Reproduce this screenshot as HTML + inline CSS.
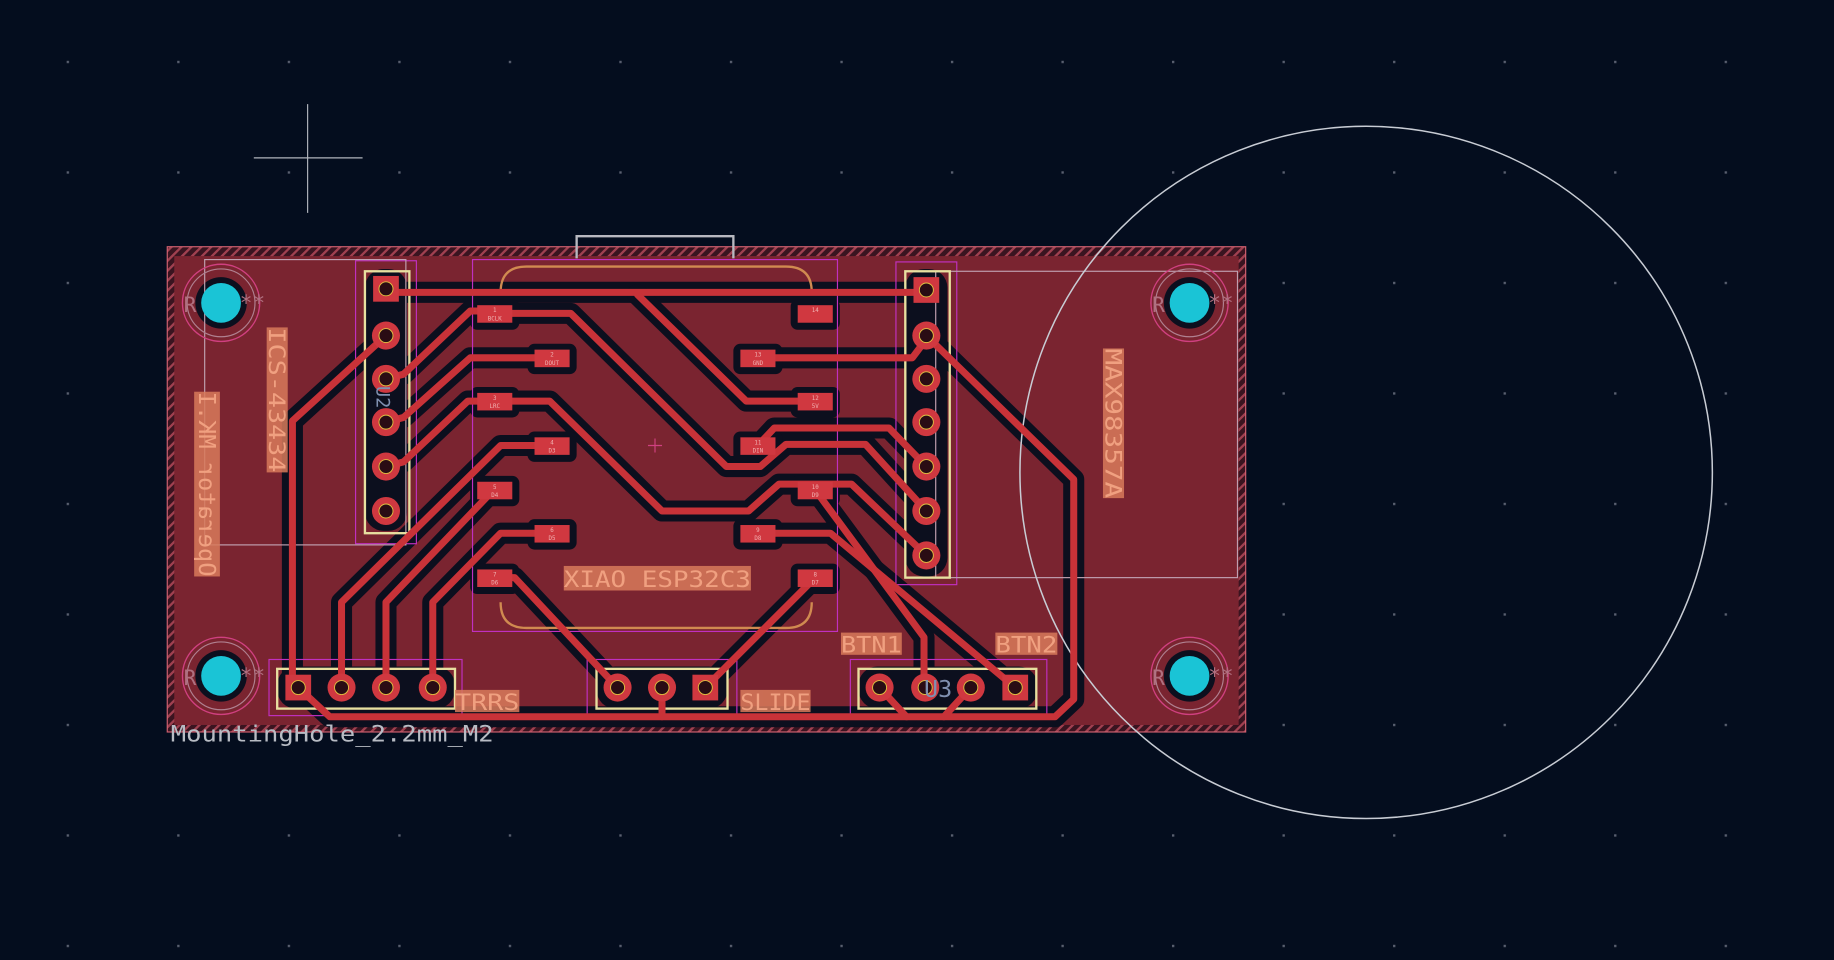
<!DOCTYPE html>
<html><head><meta charset="utf-8"><style>
html,body{margin:0;padding:0;background:#040d1e;}
svg{display:block}
text{font-family:"DejaVu Sans Mono","Liberation Mono",monospace;}
</style></head><body>
<svg width="1834" height="960" viewBox="0 0 1568 821" preserveAspectRatio="none" xmlns="http://www.w3.org/2000/svg">
<defs>
<pattern id="grid" x="57" y="52" width="94.5" height="94.5" patternUnits="userSpaceOnUse">
<rect x="0" y="0" width="2" height="2" fill="#5a6070"/>
</pattern>
<pattern id="hatch" width="6" height="6" patternUnits="userSpaceOnUse" patternTransform="rotate(45)">
<rect width="6" height="6" fill="#3a1420"/>
<rect width="2" height="6" fill="#a04050"/>
</pattern>
</defs>
<rect width="1568" height="821" fill="#040d1e"/>
<rect width="1568" height="821" fill="url(#grid)"/>

<!-- board -->
<rect x="143" y="211" width="922" height="415" fill="url(#hatch)"/>
<rect x="149" y="219" width="910" height="401" fill="#7a2430"/>
<rect x="143" y="211" width="922" height="415" fill="none" stroke="#d06070" stroke-width="1"/>

<!-- usb outline -->
<path d="M493 221 V202 H627 V221" fill="none" stroke="#b8b8c0" stroke-width="2"/>

<!-- clearance -->
<g stroke="#0c0f1e" stroke-width="18" fill="none" stroke-linejoin="round" stroke-linecap="round">
<path d="M330 250 H792"/>
<path d="M648 306 H780 L792 290"/>
<path d="M545 252 L638 343 H697"/>
<path d="M648 381 L662 366 H760 L792 399"/>
<path d="M422 268 H488 L621 399 H650 L672 380 H740 L792 437"/>
<path d="M422 343 H470 L566 437 H640 L666 414 H728 L792 475"/>
<path d="M697 419 L790 545 V588"/>
<path d="M648 456 H710 L868 588"/>
<path d="M792 287 L918 410 V598 L902 613 H282 L255 588"/>
<path d="M752 588 L775 613 M830 588 L807 613 M566 588 V613"/>
<path d="M697 494 L603 588"/>
<path d="M422 494 H440 L528 588"/>
<path d="M330 287 L250 360 V588"/>
<path d="M330 324 L345 320 L402 266 H422"/>
<path d="M330 361 L345 357 L402 306 H471"/>
<path d="M330 399 L345 395 L400 343 H422"/>
<path d="M471 381 H428 L292 515 V588"/>
<path d="M422 419 L330 515 V588"/>
<path d="M471 456 H428 L370 515 V588"/>
</g>
<g fill="#0c0f1e">
<rect x="402" y="256" width="42" height="26" rx="6"/><rect x="451" y="294" width="42" height="26" rx="6"/>
<rect x="402" y="331" width="42" height="26" rx="6"/><rect x="451" y="369" width="42" height="26" rx="6"/>
<rect x="402" y="407" width="42" height="26" rx="6"/><rect x="451" y="444" width="42" height="26" rx="6"/>
<rect x="402" y="482" width="42" height="26" rx="6"/>
<rect x="676" y="256" width="42" height="26" rx="6"/><rect x="627" y="294" width="42" height="26" rx="6"/>
<rect x="676" y="331" width="42" height="26" rx="6"/><rect x="627" y="369" width="42" height="26" rx="6"/>
<rect x="676" y="407" width="42" height="26" rx="6"/><rect x="627" y="444" width="42" height="26" rx="6"/>
<rect x="676" y="482" width="42" height="26" rx="6"/>
<rect x="312" y="230" width="36" height="224" rx="16"/>
<rect x="774" y="230" width="36" height="263" rx="16"/>
<rect x="237" y="570" width="152" height="36" rx="16"/>
<rect x="510" y="570" width="112" height="36" rx="16"/>
<rect x="734" y="570" width="153" height="36" rx="16"/>
<circle cx="189" cy="259" r="22"/><circle cx="1017" cy="259" r="22"/>
<circle cx="189" cy="578" r="22"/><circle cx="1017" cy="578" r="22"/>
</g>

<!-- silkscreen / fab outlines -->
<g fill="none">
<rect x="404" y="222" width="312" height="318" stroke="#c030c0" stroke-width="1"/>
<path d="M428 250 Q428 228 450 228 H672 Q694 228 694 250" stroke="#d08a50" stroke-width="2"/>
<path d="M428 515 Q428 537 450 537 H672 Q694 537 694 515" stroke="#d08a50" stroke-width="2"/>
<rect x="304" y="223" width="52" height="242" stroke="#c030c0" stroke-width="1"/>
<rect x="766" y="224" width="52" height="276" stroke="#c030c0" stroke-width="1"/>
<rect x="230" y="564" width="165" height="48" stroke="#c030c0" stroke-width="1"/>
<rect x="502" y="564" width="128" height="48" stroke="#c030c0" stroke-width="1"/>
<rect x="727" y="564" width="168" height="48" stroke="#c030c0" stroke-width="1"/>
<rect x="175" y="222" width="172" height="244" stroke="#c0a0b0" stroke-width="1"/>
<rect x="800" y="232" width="258" height="262" stroke="#c0a0b0" stroke-width="1"/>
<rect x="312" y="232" width="38" height="224" stroke="#e8e0a0" stroke-width="2"/>
<rect x="774" y="232" width="38" height="262" stroke="#e8e0a0" stroke-width="2"/>
<rect x="237" y="572" width="152" height="34" stroke="#e8e0a0" stroke-width="2"/>
<rect x="510" y="572" width="112" height="34" stroke="#e8e0a0" stroke-width="2"/>
<rect x="734" y="572" width="152" height="34" stroke="#e8e0a0" stroke-width="2"/>
<circle cx="1168" cy="404" r="296" stroke="#c8ccd4" stroke-width="1.3"/>
<path d="M263 89 V182 M217 135 H310" stroke="#b0b4bc" stroke-width="1"/>
<path d="M554 381 H566 M560 375 V387" stroke="#d04080" stroke-width="1"/>
</g>

<!-- tracks -->
<g stroke="#c83238" stroke-width="6" fill="none" stroke-linejoin="round" stroke-linecap="round">
<path d="M330 250 H792"/>
<path d="M648 306 H780 L792 290"/>
<path d="M545 252 L638 343 H697"/>
<path d="M648 381 L662 366 H760 L792 399"/>
<path d="M422 268 H488 L621 399 H650 L672 380 H740 L792 437"/>
<path d="M422 343 H470 L566 437 H640 L666 414 H728 L792 475"/>
<path d="M697 419 L790 545 V588"/>
<path d="M648 456 H710 L868 588"/>
<path d="M792 287 L918 410 V598 L902 613 H282 L255 588"/>
<path d="M752 588 L775 613 M830 588 L807 613 M566 588 V613"/>
<path d="M697 494 L603 588"/>
<path d="M422 494 H440 L528 588"/>
<path d="M330 287 L250 360 V588"/>
<path d="M330 324 L345 320 L402 266 H422"/>
<path d="M330 361 L345 357 L402 306 H471"/>
<path d="M330 399 L345 395 L400 343 H422"/>
<path d="M471 381 H428 L292 515 V588"/>
<path d="M422 419 L330 515 V588"/>
<path d="M471 456 H428 L370 515 V588"/>
</g>

<!-- SMD pads -->
<g fill="#d03840">
<rect x="408" y="261" width="30" height="15"/><rect x="457" y="299" width="30" height="15"/>
<rect x="408" y="336" width="30" height="15"/><rect x="457" y="374" width="30" height="15"/>
<rect x="408" y="412" width="30" height="15"/><rect x="457" y="449" width="30" height="15"/>
<rect x="408" y="487" width="30" height="15"/>
<rect x="682" y="261" width="30" height="15"/><rect x="633" y="299" width="30" height="15"/>
<rect x="682" y="336" width="30" height="15"/><rect x="633" y="374" width="30" height="15"/>
<rect x="682" y="412" width="30" height="15"/><rect x="633" y="449" width="30" height="15"/>
<rect x="682" y="487" width="30" height="15"/>
</g>
<g fill="#f0b0b0" font-size="5" text-anchor="middle">
<text x="423" y="267">1</text><text x="423" y="274">BCLK</text>
<text x="472" y="305">2</text><text x="472" y="312">DOUT</text>
<text x="423" y="342">3</text><text x="423" y="349">LRC</text>
<text x="472" y="380">4</text><text x="472" y="387">D3</text>
<text x="423" y="418">5</text><text x="423" y="425">D4</text>
<text x="472" y="455">6</text><text x="472" y="462">D5</text>
<text x="423" y="493">7</text><text x="423" y="500">D6</text>
<text x="697" y="267">14</text>
<text x="648" y="305">13</text><text x="648" y="312">GND</text>
<text x="697" y="342">12</text><text x="697" y="349">5V</text>
<text x="648" y="380">11</text><text x="648" y="387">DIN</text>
<text x="697" y="418">10</text><text x="697" y="425">D9</text>
<text x="648" y="455">9</text><text x="648" y="462">D8</text>
<text x="697" y="493">8</text><text x="697" y="500">D7</text>
</g>

<!-- THT pads -->
<g fill="#d03840">
<rect x="319" y="236" width="22" height="22"/>
<circle cx="330" cy="287" r="12"/><circle cx="330" cy="324" r="12"/><circle cx="330" cy="361" r="12"/><circle cx="330" cy="399" r="12"/><circle cx="330" cy="437" r="12"/>
<rect x="781" y="237" width="22" height="22"/>
<circle cx="792" cy="287" r="12"/><circle cx="792" cy="324" r="12"/><circle cx="792" cy="361" r="12"/><circle cx="792" cy="399" r="12"/><circle cx="792" cy="437" r="12"/><circle cx="792" cy="475" r="12"/>
<rect x="244" y="577" width="22" height="22"/>
<circle cx="292" cy="588" r="12"/><circle cx="330" cy="588" r="12"/><circle cx="370" cy="588" r="12"/>
<circle cx="528" cy="588" r="12"/><circle cx="566" cy="588" r="12"/><rect x="592" y="577" width="22" height="22"/>
<circle cx="752" cy="588" r="12"/><circle cx="791" cy="588" r="12"/><circle cx="830" cy="588" r="12"/><rect x="857" y="577" width="22" height="22"/>
</g>
<g fill="#2a0c14" stroke="#e0c040" stroke-width="0.8">
<circle cx="330" cy="247" r="6"/><circle cx="330" cy="287" r="6"/><circle cx="330" cy="324" r="6"/><circle cx="330" cy="361" r="6"/><circle cx="330" cy="399" r="6"/><circle cx="330" cy="437" r="6"/>
<circle cx="792" cy="248" r="6"/><circle cx="792" cy="287" r="6"/><circle cx="792" cy="324" r="6"/><circle cx="792" cy="361" r="6"/><circle cx="792" cy="399" r="6"/><circle cx="792" cy="437" r="6"/><circle cx="792" cy="475" r="6"/>
<circle cx="255" cy="588" r="6"/><circle cx="292" cy="588" r="6"/><circle cx="330" cy="588" r="6"/><circle cx="370" cy="588" r="6"/>
<circle cx="528" cy="588" r="6"/><circle cx="566" cy="588" r="6"/><circle cx="603" cy="588" r="6"/>
<circle cx="752" cy="588" r="6"/><circle cx="791" cy="588" r="6"/><circle cx="830" cy="588" r="6"/><circle cx="868" cy="588" r="6"/>
</g>

<!-- mounting holes -->
<g>
<g fill="none" stroke="#d04080" stroke-width="1.2">
<circle cx="189" cy="259" r="33"/><circle cx="1017" cy="259" r="33"/><circle cx="189" cy="578" r="33"/><circle cx="1017" cy="578" r="33"/>
</g>
<g fill="none" stroke="#b08090" stroke-width="1">
<circle cx="189" cy="259" r="29"/><circle cx="1017" cy="259" r="29"/><circle cx="189" cy="578" r="29"/><circle cx="1017" cy="578" r="29"/>
</g>
<g fill="#1ac4d6">
<circle cx="189" cy="259" r="17"/><circle cx="1017" cy="259" r="17"/><circle cx="189" cy="578" r="17"/><circle cx="1017" cy="578" r="17"/>
</g>
<g fill="#b07080" font-size="18">
<text x="157" y="267">R</text><text x="205" y="265">**</text>
<text x="985" y="267">R</text><text x="1033" y="265">**</text>
<text x="157" y="586">R</text><text x="205" y="584">**</text>
<text x="985" y="586">R</text><text x="1033" y="584">**</text>
</g>
</g>

<!-- labels -->
<g fill="#d87a5a" opacity="0.85">
<rect x="482" y="484" width="160" height="21"/>
<rect x="228" y="280" width="18" height="124"/>
<rect x="166" y="335" width="22" height="158"/>
<rect x="943" y="298" width="18" height="128"/>
<rect x="719" y="541" width="52" height="19"/>
<rect x="851" y="541" width="53" height="19"/>
<rect x="389" y="590" width="55" height="19"/>
<rect x="633" y="590" width="60" height="19"/>
</g>
<g fill="#f0a080" font-size="19">
<text x="482" y="502" textLength="160" lengthAdjust="spacingAndGlyphs">XIAO ESP32C3</text>
<text x="719" y="558" textLength="52" lengthAdjust="spacingAndGlyphs">BTN1</text>
<text x="851" y="558" textLength="53" lengthAdjust="spacingAndGlyphs">BTN2</text>
<text x="389" y="607" textLength="55" lengthAdjust="spacingAndGlyphs">TRRS</text>
<text x="633" y="607" textLength="60" lengthAdjust="spacingAndGlyphs">SLIDE</text>
<text transform="translate(230,280) rotate(90)" textLength="124" lengthAdjust="spacingAndGlyphs">ICS-43434</text>
<text transform="translate(945,298) rotate(90)" textLength="128" lengthAdjust="spacingAndGlyphs">MAX98357A</text>
<text transform="translate(170,493) rotate(90) scale(-1,1)" textLength="158" lengthAdjust="spacingAndGlyphs" font-size="20">Operator MK.I</text>
</g>
<text x="146" y="634" fill="#b8bcc4" font-size="19" textLength="276" lengthAdjust="spacingAndGlyphs">MountingHole_2.2mm_M2</text>
<text x="790" y="596" fill="#8090b0" font-size="20">U3</text>
<text transform="translate(322,330) rotate(90)" fill="#8090b0" font-size="16">U2</text>
</svg>
</body></html>
